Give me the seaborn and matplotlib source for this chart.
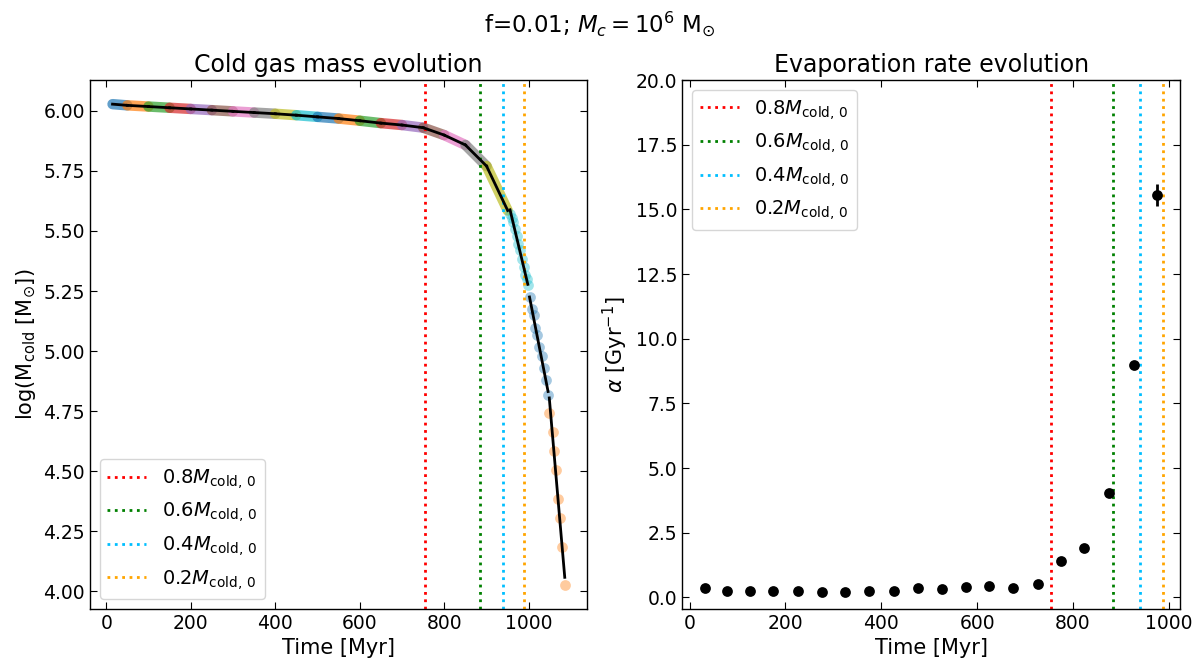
import numpy as np
import pandas as pd
import matplotlib
matplotlib.use("Agg")
import matplotlib.pyplot as plt
import seaborn as sns

# ---------------- data ----------------
# Left panel: log cold-gas mass, densely sampled part (segment boundaries)
band_time = [15, 50, 100, 150, 200, 250, 300, 350, 400, 450, 500,
             550, 600, 650, 700, 750, 800, 850, 900, 950]
band_logm = [6.028, 6.023, 6.018, 6.013, 6.008, 6.003, 5.998, 5.993, 5.988,
             5.982, 5.975, 5.968, 5.959, 5.949, 5.941, 5.930, 5.899, 5.858,
             5.770, 5.585]

# sparse segments (individual snapshots)
seg20_time = [955.5, 959.5, 963.5, 967.4, 971.4, 975.4, 979.3, 983.3, 987.4, 991.2, 994.5, 997.6]
seg20_logm = [5.571, 5.552, 5.537, 5.509, 5.481, 5.447, 5.419, 5.385, 5.350, 5.315, 5.300, 5.274]
seg21_time = [1001.6, 1007.1, 1011.2, 1015.0, 1019.0, 1023.1, 1031.0, 1035.0, 1041.2, 1045.5]
seg21_logm = [5.223, 5.177, 5.149, 5.098, 5.066, 5.018, 4.979, 4.928, 4.880, 4.817]
seg22_time = [1048.4, 1057.1, 1060.2, 1065.0, 1069.0, 1073.0, 1078.6, 1085.0]
seg22_logm = [4.744, 4.663, 4.582, 4.503, 4.386, 4.306, 4.186, 4.026]

# Right panel: evaporation rate
alpha_time = [32, 77, 126, 175, 226, 276, 325, 375, 426, 477, 526, 576, 625,
              675, 727, 775, 824, 876, 927, 976]
alpha_val = [0.36, 0.23, 0.26, 0.23, 0.25, 0.22, 0.22, 0.26, 0.26, 0.36, 0.33,
             0.41, 0.46, 0.36, 0.53, 1.40, 1.91, 4.03, 9.00, 15.55]
alpha_err = [0.02, 0.02, 0.02, 0.02, 0.02, 0.02, 0.02, 0.02, 0.02, 0.02, 0.02,
             0.02, 0.02, 0.02, 0.03, 0.03, 0.04, 0.06, 0.12, 0.43]

# Mass-fraction reference times
frac_labels = ["0.8", "0.6", "0.4", "0.2"]
frac_time = [755, 884, 940, 988]
frac_colors = ["red", "green", "deepskyblue", "orange"]

# ---------------- style ----------------
plt.rcParams.update({
    "font.family": ["DejaVu Sans"],
    "mathtext.fontset": "dejavusans",
    "xtick.direction": "in", "ytick.direction": "in",
    "xtick.top": True, "ytick.right": True,
    "xtick.labelsize": 13.5, "ytick.labelsize": 13.5,
    "xtick.major.size": 5, "ytick.major.size": 5,
    "axes.linewidth": 1.0,
})
pal = sns.color_palette("tab10")

fig, (ax1, ax2) = plt.subplots(1, 2, figsize=(11.99, 6.62), dpi=100)
fig.subplots_adjust(left=0.075, right=0.984, bottom=0.08, top=0.879, wspace=0.191)

# ---------------- left panel ----------------
for k in range(len(band_time) - 1):
    seg = pd.DataFrame({"t": band_time[k:k + 2], "m": band_logm[k:k + 2]})
    sns.lineplot(data=seg, x="t", y="m", ax=ax1, color=pal[k % 10], lw=7.5,
                 alpha=0.7, estimator=None, legend=False, solid_capstyle="round")
    sns.lineplot(data=seg, x="t", y="m", ax=ax1, color="k", lw=2,
                 estimator=None, legend=False, zorder=4)

sparse = [(seg20_time, seg20_logm), (seg21_time, seg21_logm), (seg22_time, seg22_logm)]
for i, (t, m) in enumerate(sparse):
    c = pal[(len(band_time) - 1 + i) % 10]
    sns.scatterplot(x=t, y=m, ax=ax1, color=c, alpha=0.4, s=60, linewidth=0, zorder=2)
    coef = np.polyfit(t, m, 1)
    tt = np.array([min(t), max(t)])
    sns.lineplot(x=tt, y=np.polyval(coef, tt), ax=ax1, color="k", lw=2,
                 estimator=None, legend=False, zorder=4)

for lab, tv, col in zip(frac_labels, frac_time, frac_colors):
    ax1.axvline(tv, color=col, ls=":", lw=2, label=rf"${lab}M_{{\mathrm{{cold,\,0}}}}$")

ax1.set_yticks(np.arange(4.0, 6.01, 0.25))
ax1.set_xlabel("Time [Myr]", fontsize=15)
ax1.set_ylabel(r"log(M$_{\rm cold}$ [M$_{\odot}$])", fontsize=15)
ax1.set_title("Cold gas mass evolution", fontsize=17)
ax1.legend(loc="lower left", fontsize=14)

# ---------------- right panel ----------------
sns.scatterplot(x=alpha_time, y=alpha_val, ax=ax2, color="k", s=60, linewidth=0, zorder=3)
ax2.errorbar(alpha_time, alpha_val, yerr=alpha_err, fmt="none", ecolor="k",
             elinewidth=2, zorder=3)
for lab, tv, col in zip(frac_labels, frac_time, frac_colors):
    ax2.axvline(tv, color=col, ls=":", lw=2, label=rf"${lab}M_{{\mathrm{{cold,\,0}}}}$")
ax2.set_ylim(-0.45, 20)
ax2.set_xlabel("Time [Myr]", fontsize=15)
ax2.set_ylabel(r"$\alpha$ [Gyr$^{-1}$]", fontsize=15)
ax2.set_title("Evaporation rate evolution", fontsize=17)
ax2.legend(loc="upper left", fontsize=14)

for ax in (ax1, ax2):
    ax.set_xticks([0, 200, 400, 600, 800, 1000])

fig.suptitle(r"f=0.01; $M_c = 10^6$ M$_{\odot}$", fontsize=16.5, y=0.985)
fig.savefig("out.png", dpi=100)
